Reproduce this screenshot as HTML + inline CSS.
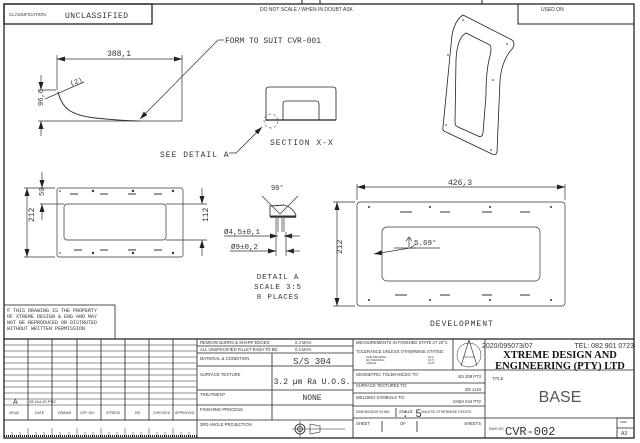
<!DOCTYPE html>
<html><head><meta charset="utf-8"><style>
html,body{margin:0;padding:0;background:#fff;}
svg{display:block;}
text{font-family:"Liberation Sans",sans-serif;fill:#333;}
.m{font-family:"Liberation Mono",monospace;}
.s{font-family:"Liberation Serif",serif;font-weight:bold;fill:#111;}
</style></head><body>
<svg width="640" height="443" viewBox="0 0 640 443" xmlns="http://www.w3.org/2000/svg">
<defs>
<marker id="a" markerWidth="8" markerHeight="6" refX="8" refY="3" orient="auto-start-reverse" markerUnits="userSpaceOnUse"><path d="M0,0.5 L8,3 L0,5.5z" fill="#222"/></marker>
</defs>
<g fill="none" stroke="#222" stroke-width="1">
<rect x="4" y="4" width="630" height="434" stroke-width="1.3"/>
<line x1="302" y1="0" x2="302" y2="4"/><line x1="320" y1="0" x2="320" y2="4"/><line x1="482" y1="0" x2="482" y2="4"/>
<rect x="4" y="4" width="148" height="20" stroke-width="1.3"/>
<rect x="518" y="4" width="116" height="20"/>
</g>
<text x="9" y="16" font-size="4.5">CLASSIFICATION:</text>
<text x="65" y="18" font-size="8" class="m" letter-spacing="0.5">UNCLASSIFIED</text>
<text x="260" y="11" font-size="5">DO NOT SCALE / WHEN IN DOUBT ASK</text>
<text x="541" y="11" font-size="5">USED ON</text>

<g fill="none" stroke="#333" stroke-width="0.7">
<line x1="57" y1="55" x2="57" y2="90"/><line x1="182" y1="55" x2="182" y2="121"/>
<line x1="57" y1="59" x2="182" y2="59" marker-start="url(#a)" marker-end="url(#a)"/>
<line x1="38" y1="121" x2="182" y2="121"/>
<line x1="38" y1="90" x2="56" y2="90"/>
<line x1="41" y1="75" x2="41" y2="90" marker-end="url(#a)"/>
<line x1="41" y1="136" x2="41" y2="121" marker-end="url(#a)"/>
<line x1="45" y1="99" x2="84" y2="82"/>
<path d="M58,92 C62,108 70,115 95,118 C115,120 130,121 140,121" stroke-width="1"/>
<line x1="218" y1="40" x2="140" y2="119" marker-end="url(#a)"/>
<line x1="218" y1="40" x2="224" y2="40"/>
</g>
<text x="107" y="56" font-size="8" class="m">388,1</text>
<text x="70" y="84" font-size="7" class="m" transform="rotate(-22 76 82)">(2)</text>
<text x="36" y="113" font-size="7" class="m" transform="rotate(-90 36 106)">96,6</text>
<text x="225" y="43" font-size="8" class="m">FORM TO SUIT CVR-001</text>

<g fill="none" stroke="#222" stroke-width="0.8">
<path d="M266,121 L266,90 Q266,87 269,87 L333,87 Q336,87 336,90 L336,120"/>
<line x1="266" y1="120" x2="336" y2="120" stroke-width="1.2"/>
<path d="M283,120 L283,104 Q283,101 286,101 L316,101 Q319,101 319,104 L319,120"/>
<circle cx="271" cy="121" r="7" stroke-dasharray="3,2" stroke-width="0.5"/>
<line x1="236" y1="153" x2="262" y2="127" marker-end="url(#a)" stroke-width="0.7"/>
<line x1="229" y1="153" x2="236" y2="153" stroke-width="0.7"/>
</g>
<text x="270" y="145" font-size="8" class="m" letter-spacing="1">SECTION X-X</text>
<text x="160" y="157" font-size="8" class="m" letter-spacing="1">SEE DETAIL A</text>

<g fill="none" stroke="#222" stroke-width="0.8">
<path d="M443,127 L452,35 Q455,20 463,15 L512,40 Q516,44 512,49 Q502,60 500,80 L497,152 Q496,156 492,154 L446,132 Q442,131 443,127z"/>
<path d="M455,122 L456,60 Q457,38 466,33 L490,45 Q492,48 490,56 Q486,70 486,95 L483,133 Q482,138 478,136 L458,127 Q455,126 455,122z"/>
</g>
<g fill="#333"><circle cx="463" cy="20" r="0.8"/><circle cx="507" cy="44" r="0.8"/><circle cx="448" cy="55" r="0.8"/><circle cx="493" cy="80" r="0.8"/><circle cx="446" cy="125" r="0.8"/><circle cx="491" cy="150" r="0.8"/></g>

<g fill="none" stroke="#333" stroke-width="0.7">
<rect x="57" y="188" width="126" height="69" rx="2"/>
<rect x="64" y="204" width="102" height="36" rx="3"/>
<line x1="24" y1="188" x2="55" y2="188"/><line x1="24" y1="257" x2="55" y2="257"/>
<line x1="27" y1="188" x2="27" y2="257" marker-start="url(#a)" marker-end="url(#a)"/>
<line x1="40" y1="204" x2="64" y2="204"/>
<line x1="42" y1="172" x2="42" y2="188" marker-end="url(#a)"/>
<line x1="42" y1="220" x2="42" y2="204" marker-end="url(#a)"/>
<line x1="166" y1="204" x2="207" y2="204"/><line x1="166" y1="240" x2="207" y2="240"/>
<line x1="202" y1="188" x2="202" y2="204" marker-end="url(#a)"/>
<line x1="202" y1="256" x2="202" y2="240" marker-end="url(#a)"/>
</g>
<g stroke="#333" stroke-width="1">
<line x1="70" y1="194" x2="78" y2="194"/><line x1="100" y1="194" x2="108" y2="194"/><line x1="128" y1="194" x2="136" y2="194"/><line x1="154" y1="194" x2="162" y2="194"/>
<line x1="74" y1="250" x2="82" y2="250"/><line x1="100" y1="250" x2="108" y2="250"/><line x1="128" y1="250" x2="136" y2="250"/><line x1="154" y1="250" x2="162" y2="250"/>
</g>
<g fill="#333"><circle cx="93" cy="191" r="1.2"/><circle cx="133" cy="191" r="1.2"/><circle cx="173" cy="191" r="1.2"/><circle cx="60" cy="191" r="0.8"/>
<circle cx="93" cy="253" r="1.2"/><circle cx="133" cy="253" r="1.2"/><circle cx="173" cy="253" r="1.2"/><circle cx="60" cy="253" r="0.8"/></g>
<text x="24" y="232" font-size="8" class="m" transform="rotate(-90 24 222)">212</text>
<text x="40" y="200" font-size="7" class="m" transform="rotate(-90 40 196)">50</text>
<text x="200" y="230" font-size="8" class="m" transform="rotate(-90 200 222)">112</text>

<g fill="none" stroke="#333" stroke-width="0.7">
<line x1="262" y1="196" x2="280" y2="214"/><line x1="298" y1="196" x2="280" y2="214"/>
<path d="M270,206 L270,216 L296,216 Q294,208 284,205 Z" stroke-width="0.9"/>
<line x1="270" y1="217" x2="296" y2="217" stroke-width="1.5"/>
<line x1="276" y1="218" x2="276" y2="232"/><line x1="278" y1="218" x2="278" y2="232"/><line x1="282" y1="218" x2="282" y2="232"/><line x1="284" y1="218" x2="284" y2="232"/>
<line x1="224" y1="236" x2="270" y2="236"/><line x1="270" y1="236" x2="278" y2="236" marker-end="url(#a)"/><line x1="294" y1="236" x2="284" y2="236" marker-end="url(#a)"/><line x1="284" y1="236" x2="300" y2="236"/>
<line x1="230" y1="251" x2="268" y2="251"/><line x1="268" y1="251" x2="276" y2="251" marker-end="url(#a)"/><line x1="294" y1="251" x2="286" y2="251" marker-end="url(#a)"/><line x1="286" y1="251" x2="300" y2="251"/>
<line x1="276" y1="232" x2="276" y2="256"/><line x1="286" y1="232" x2="286" y2="256"/>
</g>
<text x="271" y="190" font-size="7" class="m">90°</text>
<text x="224" y="234" font-size="7.5" class="m">Ø4,5±0,1</text>
<text x="231" y="249" font-size="7.5" class="m">Ø9±0,2</text>
<text x="278" y="279" font-size="7.5" class="m" text-anchor="middle" letter-spacing="0.8">DETAIL A</text>
<text x="278" y="289" font-size="7.5" class="m" text-anchor="middle" letter-spacing="0.8">SCALE 3:5</text>
<text x="278" y="299" font-size="7.5" class="m" text-anchor="middle" letter-spacing="0.8">8 PLACES</text>

<g fill="none" stroke="#333" stroke-width="0.7">
<rect x="357" y="202" width="208" height="104" rx="3"/>
<rect x="382" y="227" width="158" height="54" rx="5"/>
<line x1="357" y1="184" x2="357" y2="200"/><line x1="565" y1="184" x2="565" y2="200"/>
<line x1="357" y1="187" x2="565" y2="187" marker-start="url(#a)" marker-end="url(#a)"/>
<line x1="333" y1="202" x2="355" y2="202"/><line x1="333" y1="306" x2="355" y2="306"/>
<line x1="337" y1="202" x2="337" y2="306" marker-start="url(#a)" marker-end="url(#a)"/>
<line x1="394" y1="248" x2="440" y2="248"/>
<line x1="410" y1="248" x2="416" y2="244"/><line x1="410" y1="248" x2="416" y2="248"/>
<line x1="410" y1="248" x2="374" y2="254" marker-end="url(#a)"/>
<line x1="409" y1="247" x2="409" y2="238"/><path d="M406,241 L409,237 L412,241"/>
</g>
<g stroke="#333" stroke-width="1">
<line x1="400" y1="212" x2="412" y2="212"/><line x1="440" y1="212" x2="450" y2="212"/><line x1="482" y1="212" x2="492" y2="212"/><line x1="520" y1="212" x2="530" y2="212"/>
<line x1="395" y1="295" x2="407" y2="295"/><line x1="440" y1="295" x2="450" y2="295"/><line x1="482" y1="295" x2="492" y2="295"/><line x1="520" y1="295" x2="530" y2="295"/>
</g>
<g fill="#333"><circle cx="369" cy="207" r="1"/><circle cx="430" cy="207" r="1"/><circle cx="490" cy="207" r="1"/><circle cx="551" cy="207" r="1"/>
<circle cx="369" cy="300" r="1"/><circle cx="430" cy="300" r="1"/><circle cx="490" cy="300" r="1"/><circle cx="551" cy="300" r="1"/></g>
<text x="448" y="185" font-size="8" class="m">426,3</text>
<text x="334" y="262" font-size="8" class="m" transform="rotate(-90 334 254)">212</text>
<text x="414" y="245" font-size="7.5" class="m">5.69°</text>
<text x="430" y="326" font-size="8" class="m" letter-spacing="1">DEVELOPMENT</text>

<g fill="none" stroke="#222" stroke-width="0.8">
<rect x="4" y="305" width="111" height="34"/>
<line x1="4" y1="339" x2="634" y2="339" stroke-width="1.2"/>
<line x1="197" y1="339" x2="197" y2="438"/>
<line x1="353" y1="339" x2="353" y2="438"/>
<line x1="485" y1="339" x2="485" y2="438"/>
<line x1="28" y1="339" x2="28" y2="420"/><line x1="52" y1="339" x2="52" y2="420"/><line x1="77" y1="339" x2="77" y2="420"/><line x1="101" y1="339" x2="101" y2="420"/><line x1="125" y1="339" x2="125" y2="420"/><line x1="149" y1="339" x2="149" y2="420"/><line x1="173" y1="339" x2="173" y2="420"/>
<path d="M4,345H197M4,351H197M4,357H197M4,363H197M4,369H197M4,375H197M4,381H197M4,387H197M4,393H197M4,399H197M4,405H197M4,420H197" stroke-width="0.5"/>
<line x1="4" y1="420" x2="197" y2="420"/>
<path d="M12,437V432M20,437V432M36,437V432M44,437V432M60,437V432M69,437V432M85,437V432M93,437V432M109,437V432M117,437V432M133,437V432M141,437V432M157,437V432M165,437V432M181,437V432M189,437V432" stroke-width="0.5"/>
<path d="M28,437V428M52,437V428M77,437V428M101,437V428M125,437V428M149,437V428M173,437V428" stroke-width="0.5"/>
<line x1="4" y1="436" x2="197" y2="436" stroke-width="2" stroke-dasharray="1,1"/>
<path d="M197,346H353M197,353H353M197,366H353M197,390H353M197,405H353M197,420H353"/>
<line x1="272" y1="353" x2="272" y2="420"/>
<path d="M353,370H485M353,383H485M353,393H485M353,406H485M353,418H485"/>
<line x1="453" y1="339" x2="453" y2="370"/>
<line x1="396" y1="408" x2="396" y2="417"/>
<line x1="382" y1="421" x2="382" y2="432"/><line x1="417" y1="421" x2="417" y2="432"/>
<path d="M485,370H634M485,418H634"/>
<rect x="617" y="418" width="17" height="20"/>
<line x1="617" y1="428" x2="634" y2="428"/>
<circle cx="300" cy="429" r="5"/><circle cx="300" cy="429" r="2.5"/>
<path d="M292,429H345M300,421V437M310,424L320,426V432L310,434Z" stroke-width="0.6"/>
<circle cx="469" cy="355" r="12" stroke-width="0.5"/>
<path d="M469,340L461,366M469,340L477,366M463,357H475" stroke-width="0.6"/>
</g>
<text x="7" y="312" font-size="5" class="m">© THIS DRAWING IS THE PROPERTY</text>
<text x="7" y="318" font-size="5" class="m">OF XTREME DESIGN &amp; ENG AND MAY</text>
<text x="7" y="324" font-size="5" class="m">NOT BE REPRODUCED OR DISTRUTED</text>
<text x="7" y="330" font-size="5" class="m">WITHOUT WRITTEN PERMISSION</text>
<text x="13" y="404" font-size="7">A</text>
<text x="29" y="403" font-size="4">28-Oct-20 PRC</text>
<g font-size="3.5"><text x="9" y="414">ISSUE</text><text x="35" y="414">DATE</text><text x="58" y="414">DRAWN</text><text x="80" y="414">CEF. NO.</text><text x="106" y="414">STRESS</text><text x="135" y="414">DR</text><text x="153" y="414">CHECKED</text><text x="175" y="414">APPROVED</text></g>
<g font-size="4.2" class="m">
<text x="200" y="344">REMOVE BURRS &amp; SHARP EDGES:</text><text x="295" y="344">0.4 MAX.</text>
<text x="200" y="351">ALL UNSPECIFIED FILLET RADII TO BE:</text><text x="295" y="351">0.4 MAX.</text>
<text x="200" y="360">MATERIAL &amp; CONDITION</text>
<text x="200" y="376">SURFACE TEXTURE</text>
<text x="200" y="396">TREATMENT</text>
<text x="200" y="411">FINISHING PROCESS</text>
<text x="200" y="426">3RD ANGLE PROJECTION</text>
<text x="356" y="344">MEASUREMENTS IN FINISHED STATE AT 20°C</text>
<text x="356" y="353">TOLERANCE UNLESS OTHERWISE STATED:</text>
<text x="356" y="376">GEOMETRIC TOLERANCES TO:</text><text x="481" y="378" text-anchor="end">BS 308 PT3</text>
<text x="356" y="387">SURFACE TEXTURES TO:</text><text x="481" y="391" text-anchor="end">BS 1134</text>
<text x="356" y="399">WELDING SYMBOLS TO:</text><text x="481" y="403" text-anchor="end">SABS 044 PT2</text>
<text x="356" y="413" font-size="3.5">DIMENSIONS IN MM</text><text x="399" y="413">SCALE</text>
<text x="421" y="413" font-size="3.5">UNLESS OTHERWISE STATED</text>
<text x="356" y="425">SHEET</text><text x="400" y="425">OF</text><text x="481" y="425" text-anchor="end">SHEETS</text>
<text x="489" y="430" font-size="3.5">DWG NO.</text>
<text x="492" y="380">TITLE</text>
</g>
<g font-size="3" class="m"><text x="366" y="358">ONE DECIMAL</text><text x="366" y="361">NO DECIMAL</text><text x="366" y="364">ANGLE</text><text x="428" y="358">±0.2</text><text x="428" y="361">±0.5</text><text x="428" y="364">±0.5°</text></g>
<text x="312" y="364" font-size="9" class="m" text-anchor="middle">S/S 304</text>
<text x="312" y="384" font-size="8" class="m" text-anchor="middle">3.2 µm Ra U.O.S.</text>
<text x="312" y="400" font-size="8" class="m" text-anchor="middle">NONE</text>
<text x="402" y="417" font-size="11" class="m">: 5</text>
<text x="482" y="348" font-size="7">2020/095073/07</text>
<text x="634" y="348" font-size="7" text-anchor="end">TEL: 082 901 0723</text>
<text x="560" y="358" font-size="10.5" class="s" text-anchor="middle">XTREME DESIGN AND</text>
<text x="560" y="369" font-size="10.5" class="s" text-anchor="middle">ENGINEERING (PTY) LTD</text>
<text x="560" y="402" font-size="16" text-anchor="middle" style="fill:#555">BASE</text>
<text x="505" y="435" font-size="12" class="m">CVR-002</text>
<text x="620" y="423" font-size="3">SIZE</text>
<text x="621" y="435" font-size="5">A3</text>
</svg>
</body></html>
